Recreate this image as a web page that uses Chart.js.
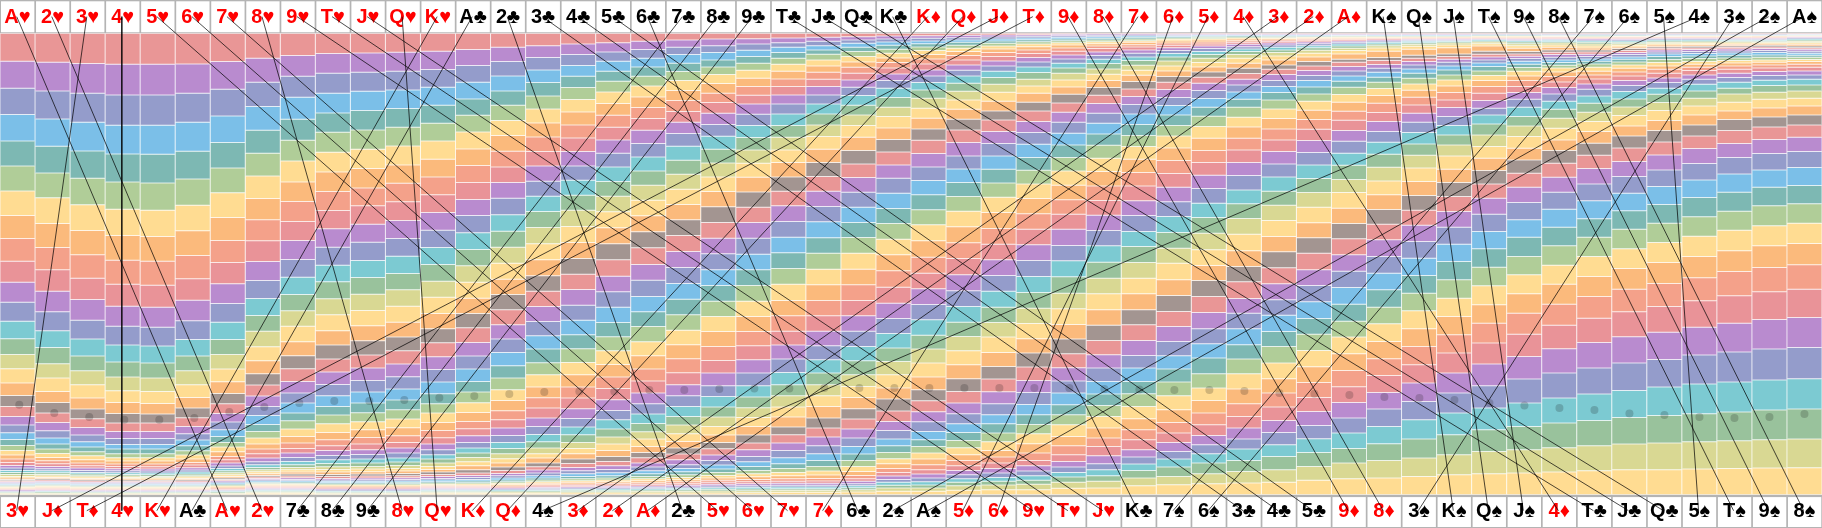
<!DOCTYPE html>
<html><head><meta charset="utf-8">
<style>html,body{margin:0;padding:0;background:#fff;overflow:hidden}canvas{display:block}</style>
<script src="https://cdn.jsdelivr.net/npm/chart.js@4"></script>
</head><body><canvas id="c" width="1822" height="528"></canvas>
<script>
const topCards = ["A♥","2♥","3♥","4♥","5♥","6♥","7♥","8♥","9♥","T♥","J♥","Q♥","K♥","A♣","2♣","3♣","4♣","5♣","6♣","7♣","8♣","9♣","T♣","J♣","Q♣","K♣","K♦","Q♦","J♦","T♦","9♦","8♦","7♦","6♦","5♦","4♦","3♦","2♦","A♦","K♠","Q♠","J♠","T♠","9♠","8♠","7♠","6♠","5♠","4♠","3♠","2♠","A♠"];
const bottomCards = ["3♥","J♦","T♦","4♥","K♥","A♣","A♥","2♥","7♣","8♣","9♣","8♥","Q♥","K♦","Q♦","4♠","3♦","2♦","A♦","2♣","5♥","6♥","7♥","7♦","6♣","2♠","A♠","5♦","6♦","9♥","T♥","J♥","K♣","7♠","6♠","3♣","4♣","5♣","9♦","8♦","3♠","K♠","Q♠","J♠","4♦","T♣","J♣","Q♣","5♠","T♠","9♠","8♠"];
// cumulative share read per column, from the top band down
const col01=[10,94,175,254,333,408,483,557,626,694,757,817,874,927,974,1017,1060,1097,1130,1160,1186,1209,1229,1247,1262,1276,1288,1298,1307,1315,1322,1328,1334,1340,1345,1349,1353,1356,1359,1362,1365,1368,1371,1374,1377,1379,1381,1384,1386,1388,1390,1392,1395];
const col02=[10,97,183,267,349,429,504,581,653,720,784,846,903,953,1002,1045,1085,1118,1150,1178,1203,1225,1243,1258,1271,1283,1293,1302,1310,1317,1323,1329,1334,1339,1343,1347,1351,1355,1358,1361,1364,1367,1370,1373,1376,1378,1380,1383,1385,1387,1390,1392,1395];
const col03=[10,101,190,277,363,445,525,602,675,745,809,871,928,979,1023,1065,1105,1138,1167,1193,1216,1236,1252,1266,1278,1290,1300,1308,1315,1322,1328,1333,1338,1342,1346,1350,1354,1358,1361,1364,1367,1370,1373,1376,1378,1380,1382,1384,1386,1388,1390,1392,1395];
const col04=[10,103,195,286,372,456,538,617,691,763,829,889,946,997,1042,1083,1118,1151,1180,1205,1226,1244,1258,1272,1284,1294,1303,1310,1317,1323,1329,1334,1339,1343,1347,1351,1355,1358,1361,1364,1367,1370,1373,1376,1378,1380,1382,1384,1386,1388,1390,1392,1395];
const col05=[10,103,195,286,373,459,541,620,694,766,832,892,949,1000,1045,1085,1121,1153,1180,1205,1226,1244,1258,1272,1284,1294,1303,1311,1318,1324,1330,1335,1340,1344,1348,1352,1355,1358,1361,1364,1367,1370,1373,1376,1378,1380,1382,1384,1386,1388,1390,1392,1395];
const col06=[10,102,190,277,364,447,526,603,677,747,811,873,929,979,1023,1065,1103,1135,1164,1190,1212,1231,1248,1263,1276,1288,1298,1306,1314,1321,1327,1333,1338,1342,1346,1350,1354,1358,1361,1364,1367,1370,1373,1376,1378,1380,1382,1384,1386,1388,1390,1392,1395];
const col07=[10,95,178,258,338,414,489,563,632,698,762,821,877,929,974,1018,1056,1091,1122,1151,1177,1200,1220,1238,1252,1266,1280,1290,1300,1309,1316,1323,1329,1335,1340,1345,1349,1353,1357,1360,1363,1366,1369,1372,1375,1378,1380,1382,1385,1387,1390,1392,1395];
const col08=[10,85,157,230,301,370,438,506,570,633,695,752,806,857,904,951,993,1032,1066,1099,1130,1157,1184,1205,1225,1243,1258,1272,1285,1296,1305,1313,1320,1326,1332,1337,1342,1346,1350,1354,1358,1361,1364,1367,1370,1373,1376,1379,1382,1385,1388,1391,1395];
const col09=[10,77,139,202,268,331,393,456,515,575,632,689,742,794,843,889,936,978,1017,1055,1090,1120,1150,1173,1198,1220,1240,1256,1270,1283,1295,1305,1313,1320,1327,1333,1339,1344,1349,1353,1357,1361,1364,1367,1370,1373,1376,1379,1382,1385,1388,1391,1395];
const col10=[10,71,130,190,249,307,367,426,485,542,597,652,706,756,807,855,903,946,988,1027,1064,1098,1130,1156,1182,1208,1230,1248,1262,1277,1290,1301,1311,1319,1327,1334,1340,1346,1351,1355,1359,1363,1366,1369,1372,1375,1378,1381,1384,1386,1389,1392,1395];
const col11=[10,69,127,184,242,300,358,416,474,528,583,637,692,743,793,842,888,933,976,1015,1052,1087,1120,1149,1176,1200,1223,1243,1260,1274,1288,1300,1310,1318,1326,1333,1339,1345,1350,1355,1359,1363,1366,1369,1372,1375,1378,1381,1384,1386,1389,1392,1395];
const col12=[10,67,124,180,236,292,348,405,460,516,572,626,679,731,780,829,877,922,963,1003,1041,1078,1111,1140,1168,1194,1218,1238,1255,1270,1285,1297,1307,1316,1324,1331,1338,1344,1349,1354,1358,1362,1366,1369,1372,1375,1378,1381,1384,1386,1389,1392,1395];
const col13=[10,64,119,172,226,280,333,388,441,495,548,601,653,704,754,802,851,897,939,981,1019,1057,1092,1122,1150,1178,1202,1224,1243,1260,1275,1288,1300,1310,1319,1327,1334,1340,1346,1351,1356,1360,1364,1367,1370,1373,1376,1379,1382,1385,1388,1391,1395];
const col14=[10,59,107,157,207,256,306,357,407,458,509,557,609,659,708,757,805,851,894,938,979,1018,1055,1087,1119,1148,1175,1197,1218,1238,1255,1270,1283,1296,1308,1320,1330,1337,1343,1349,1354,1359,1363,1367,1370,1373,1376,1379,1382,1385,1388,1391,1395];
const col15=[10,52,95,138,183,226,272,317,364,411,458,505,555,604,652,700,748,794,840,885,928,968,1008,1045,1080,1112,1143,1170,1195,1217,1238,1256,1272,1287,1300,1312,1322,1331,1338,1345,1351,1356,1361,1365,1369,1372,1375,1378,1381,1384,1387,1391,1395];
const col16=[10,47,83,120,158,198,237,279,321,365,408,454,499,545,593,642,690,738,784,830,875,918,958,999,1035,1072,1104,1135,1165,1190,1214,1236,1255,1272,1285,1300,1311,1321,1330,1338,1345,1351,1356,1361,1365,1369,1373,1376,1380,1383,1387,1391,1395];
const col17=[10,42,74,107,139,173,209,246,285,324,365,408,451,496,541,590,638,686,733,779,826,871,915,957,998,1035,1072,1105,1137,1166,1192,1215,1238,1256,1272,1288,1301,1313,1323,1332,1340,1347,1353,1358,1363,1367,1371,1375,1379,1382,1386,1390,1395];
const col18=[10,38,66,94,124,154,186,221,256,292,330,370,411,455,499,546,594,642,690,739,786,832,878,921,963,1004,1042,1076,1110,1142,1170,1198,1222,1243,1262,1280,1295,1308,1319,1329,1338,1345,1351,1356,1361,1366,1370,1374,1378,1382,1386,1390,1395];
const col19=[10,34,59,85,111,139,168,201,233,266,301,341,381,423,466,511,558,606,654,704,751,800,846,890,936,978,1018,1054,1090,1122,1153,1181,1206,1228,1250,1268,1284,1300,1312,1323,1332,1340,1347,1353,1359,1364,1369,1373,1377,1381,1385,1390,1395];
const col20=[10,30,52,74,100,125,152,182,212,245,277,311,349,391,433,478,524,570,617,665,713,761,808,855,901,945,987,1029,1065,1098,1130,1160,1186,1212,1235,1255,1273,1290,1305,1316,1326,1335,1343,1350,1356,1362,1367,1372,1376,1380,1385,1390,1395];
const col21=[10,27,47,68,90,111,134,161,190,218,250,284,319,358,399,441,485,531,578,625,672,720,767,814,860,905,950,992,1030,1068,1100,1132,1162,1190,1216,1238,1257,1276,1292,1306,1318,1328,1337,1345,1352,1358,1364,1369,1374,1379,1384,1390,1395];
const col22=[10,26,42,61,80,100,121,145,170,196,222,253,287,323,360,400,442,486,532,578,625,673,720,767,814,860,905,948,990,1030,1068,1102,1134,1163,1190,1216,1240,1260,1280,1296,1310,1322,1332,1341,1349,1356,1362,1368,1373,1378,1383,1389,1395];
const col23=[10,24,38,52,68,85,103,124,147,170,195,222,252,287,322,360,398,441,484,528,575,622,669,716,763,812,858,904,946,988,1028,1065,1098,1132,1162,1192,1215,1240,1262,1284,1302,1316,1328,1338,1347,1355,1361,1367,1372,1377,1382,1388,1395];
const col24=[10,22,34,47,60,73,90,108,127,148,170,195,222,252,285,320,358,398,440,484,530,576,624,670,718,765,812,858,904,948,990,1030,1065,1098,1130,1165,1195,1222,1248,1272,1292,1310,1324,1336,1346,1354,1361,1367,1372,1377,1382,1388,1395];
const col25=[10,20,30,40,52,65,80,96,112,130,150,172,197,226,255,287,322,362,402,443,487,532,578,623,670,718,765,812,858,904,950,993,1035,1070,1103,1137,1168,1198,1225,1250,1273,1292,1310,1325,1337,1347,1355,1362,1368,1374,1380,1387,1395];
const col26=[10,18,27,36,46,58,70,84,98,114,132,152,175,203,232,260,294,329,366,405,445,490,536,581,628,675,723,772,820,866,911,955,995,1035,1075,1108,1144,1175,1202,1228,1248,1268,1287,1302,1316,1328,1339,1349,1358,1367,1375,1385,1395];
const col27=[10,17,25,33,41,51,62,74,87,102,120,138,158,180,205,235,265,297,331,371,411,452,495,540,585,633,682,730,777,824,870,916,958,1000,1042,1080,1113,1146,1176,1205,1230,1250,1270,1288,1305,1320,1333,1345,1356,1366,1375,1385,1395];
const col28=[10,16,23,30,37,46,55,65,77,90,105,121,138,160,184,210,238,268,300,338,378,417,458,500,544,591,639,686,735,783,830,877,920,963,1005,1047,1085,1120,1152,1182,1208,1232,1254,1275,1292,1308,1322,1335,1347,1358,1368,1382,1395];
const col29=[10,15,21,27,33,40,48,57,68,80,93,108,124,143,163,187,214,243,270,305,341,378,418,459,502,548,596,643,690,737,784,832,878,922,968,1010,1048,1086,1122,1155,1182,1210,1236,1262,1282,1300,1316,1330,1343,1355,1366,1380,1395];
const col30=[10,14,19,24,29,35,42,50,60,71,83,96,111,128,148,168,190,217,243,275,308,343,383,421,462,506,552,598,645,692,740,788,835,881,927,970,1012,1052,1088,1124,1155,1184,1212,1242,1270,1292,1308,1324,1338,1352,1364,1380,1395];
const col31=[10,13,17,22,27,32,38,45,54,64,75,87,100,114,130,150,171,193,219,247,277,310,345,383,423,466,510,553,598,647,693,741,790,837,884,928,972,1014,1054,1090,1125,1155,1185,1220,1248,1275,1295,1312,1328,1342,1358,1376,1395];
const col32=[10,12,16,20,25,30,35,41,48,56,66,77,88,101,117,133,152,173,196,221,250,280,312,346,385,425,468,512,556,602,648,697,745,792,840,886,932,975,1015,1055,1093,1127,1160,1195,1225,1250,1278,1302,1320,1338,1355,1375,1395];
const col33=[10,12,15,18,22,27,32,37,44,51,60,70,81,92,106,121,136,155,177,200,224,252,284,317,350,388,428,468,513,557,605,650,698,745,792,840,885,932,977,1015,1055,1092,1130,1167,1200,1230,1260,1282,1303,1322,1345,1368,1395];
const col34=[10,12,14,17,20,24,28,33,39,46,53,62,71,81,93,108,123,140,157,179,203,227,255,287,318,354,392,431,472,516,560,608,655,700,750,797,845,890,935,978,1018,1057,1098,1140,1178,1210,1238,1265,1288,1312,1340,1365,1395];
const col35=[10,12,14,16,19,22,26,30,36,42,48,56,65,74,85,98,111,126,142,160,182,206,232,259,290,325,362,398,436,476,520,563,610,660,707,752,800,848,897,942,985,1032,1075,1112,1150,1185,1217,1245,1272,1300,1332,1362,1395];
const col36=[10,12,14,16,18,21,24,27,32,37,43,50,57,65,74,85,100,115,131,148,165,186,208,232,262,291,325,360,398,437,480,522,566,613,663,710,756,806,850,897,945,988,1032,1078,1122,1160,1195,1228,1258,1292,1325,1360,1395];
const col37=[10,12,14,16,18,20,23,26,30,34,39,45,52,60,68,78,90,105,118,134,152,170,188,210,237,266,297,330,365,402,441,484,526,572,620,666,714,762,810,856,905,950,1000,1047,1090,1132,1172,1208,1245,1280,1320,1358,1395];
const col38=[10,12,14,16,18,20,22,25,28,32,36,41,47,53,61,70,81,95,108,122,137,152,171,192,214,241,269,298,332,368,405,446,488,532,579,624,670,720,767,816,866,913,962,1011,1058,1103,1145,1187,1227,1268,1310,1352,1395];
const col39=[10,12,14,16,17,19,21,23,26,29,33,37,42,48,55,62,72,88,97,110,123,138,154,172,194,217,244,271,302,334,370,406,449,488,535,581,627,675,724,773,823,874,922,972,1022,1071,1118,1165,1210,1256,1300,1347,1395];
const col40=[10,12,14,15,17,19,21,23,25,27,30,33,37,42,47,54,64,83,92,104,115,127,142,157,176,197,220,248,275,305,337,373,412,453,495,539,583,630,680,730,780,832,882,935,987,1037,1088,1138,1190,1242,1292,1345,1395];
const col41=[10,12,14,15,17,18,20,22,24,26,28,31,34,38,43,49,58,76,85,95,105,117,130,145,162,181,202,225,250,277,308,342,376,414,455,497,541,586,635,685,737,790,843,897,950,1005,1060,1115,1170,1228,1285,1340,1395];
const col42=[10,12,14,15,17,18,20,21,23,25,27,29,32,35,39,45,53,72,80,88,97,108,120,135,150,168,188,210,233,260,287,315,345,378,418,458,500,545,592,643,695,750,805,860,915,970,1030,1090,1150,1215,1275,1335,1395];
const col43=[10,12,13,15,16,18,19,21,23,24,26,28,30,33,36,41,48,64,73,81,90,99,110,123,137,152,170,190,212,235,255,282,315,350,385,422,462,505,553,605,657,712,768,825,880,940,1003,1068,1135,1200,1265,1332,1395];
const col44=[10,12,13,15,16,18,19,21,23,25,27,29,32,36,41,47,55,65,72,79,86,94,103,113,124,138,152,170,188,208,232,260,288,320,355,390,430,472,518,570,622,680,735,792,850,913,980,1048,1120,1190,1260,1330,1395];
const col45=[10,12,13,15,16,17,19,20,22,24,26,28,31,35,39,45,52,60,67,74,82,90,98,106,114,126,140,156,173,192,214,238,265,295,330,362,400,442,487,538,592,648,706,763,823,886,957,1030,1105,1180,1254,1327,1395];
const col46=[10,12,13,15,16,18,20,21,23,25,27,30,33,37,42,48,54,60,66,73,80,87,94,102,112,124,135,147,162,178,198,220,247,275,305,340,376,416,462,513,567,622,680,740,800,865,938,1015,1093,1172,1248,1323,1395];
const col47=[10,12,13,15,16,18,19,20,22,24,26,29,33,37,41,46,51,56,62,68,74,81,88,96,105,115,126,138,152,167,185,207,231,257,288,318,354,395,440,490,543,598,657,716,778,846,921,1000,1082,1163,1243,1320,1395];
const col48=[10,12,13,15,16,17,19,20,21,23,25,27,30,33,37,41,45,50,55,60,66,72,80,89,98,108,118,130,144,158,175,193,218,242,272,302,336,375,420,470,524,580,638,698,761,830,907,989,1072,1157,1240,1320,1395];
const col49=[10,12,13,15,16,17,18,20,21,23,25,27,30,33,36,40,44,49,54,59,65,71,78,86,95,103,112,122,135,148,163,183,205,228,255,285,318,356,401,450,503,561,619,680,744,813,892,976,1063,1152,1236,1318,1395];
const col50=[10,12,13,15,16,17,18,20,21,23,25,27,29,32,35,39,43,47,52,57,63,69,76,84,92,99,108,118,130,143,157,175,192,217,243,269,302,341,383,432,487,544,601,663,725,798,880,967,1057,1147,1233,1316,1395];
const col51=[10,12,13,15,16,17,18,19,21,23,25,27,29,32,35,38,42,46,51,56,62,68,75,82,90,97,105,114,125,137,151,167,187,208,234,261,291,329,371,420,472,528,588,648,713,786,869,958,1051,1141,1230,1315,1395];
const col52=[10,12,13,14,15,16,17,18,19,20,22,24,27,30,34,38,43,48,53,58,64,70,76,82,89,95,103,112,123,135,148,165,183,205,228,255,285,322,365,413,467,522,580,641,705,778,863,953,1047,1138,1228,1314,1395];
const dotValues=[1115,1140,1152,1160,1160,1155,1137,1122,1110,1104,1104,1101,1094,1089,1083,1077,1075,1075,1071,1071,1068,1066,1066,1065,1065,1065,1065,1065,1065,1065,1065,1068,1069,1071,1071,1074,1080,1082,1086,1092,1095,1101,1110,1117,1125,1131,1141,1146,1152,1155,1152,1143];
const bandColors=["#E99696","#B98BCF","#949CCB","#7BBFE8","#7DB8B3","#B0CD98","#FFDC92","#FBBA7C","#F4A18A","#E99398","#B98BCF","#949CCB","#7CCAD2","#99C29C","#D9D893","#FFDC92","#FBBA7C","#A39591"];
const bandEdges=["#F4CBCB","#DCC5E7","#CACEE5","#BDDFF4","#BEDCD9","#D8E6CC","#FFEEC9","#FDDDBE","#FAD0C5","#F4C9CC","#DCC5E7","#CACEE5","#BEE5E9","#CCE1CE","#ECECC9","#FFEEC9","#FDDDBE","#D1CAC8"];
const columns=[col01,col02,col03,col04,col05,col06,col07,col08,col09,col10,col11,col12,col13,col14,col15,col16,col17,col18,col19,col20,col21,col22,col23,col24,col25,col26,col27,col28,col29,col30,col31,col32,col33,col34,col35,col36,col37,col38,col39,col40,col41,col42,col43,col44,col45,col46,col47,col48,col49,col50,col51,col52];
const TOTAL=1385, LINE_TOP=-50, LINE_BOTTOM=1433;

const datasets=[];
for(let b=0;b<52;b++){
  datasets.push({type:'bar',stack:'s',order:3,yAxisID:'y',
    data:columns.map((c,i)=>({x:i,y:c[b+1]-c[b]})),
    backgroundColor:bandColors[b%18],borderColor:bandEdges[b%18],borderWidth:0.5,
    borderSkipped:false,inflateAmount:0,barPercentage:1,categoryPercentage:1});
}
datasets.push({type:'line',order:2,yAxisID:'yOver',showLine:false,
  data:dotValues.map((v,i)=>({x:i+0.05-i*0.001,y:v})),pointRadius:4,pointBorderWidth:0,
  pointBackgroundColor:'rgba(20,20,20,0.2)',clip:false});
topCards.forEach((card,i)=>{
  const j=bottomCards.indexOf(card);
  datasets.push({type:'line',order:1,yAxisID:'yOver',clip:false,
    data:[{x:i-0.023,y:LINE_TOP},{x:j-0.023,y:LINE_BOTTOM}],borderColor:'rgba(0,0,0,0.7)',borderWidth:1,pointRadius:0,tension:0});
});
const cardTicks=(padding)=>({autoSkip:false,maxRotation:0,minRotation:0,padding,
  font:{family:'"Liberation Sans","DejaVu Sans",sans-serif',weight:'bold',size:20},
  color:c=>/[♥♦]/.test(c.tick.label)?'#ff0000':'#000000'});
const hide={display:false,grid:{display:false}};
const fitBand=s=>{s.height=33.3;s.paddingLeft=0;s.paddingRight=0;};
const frames={id:'frames',beforeDraw(chart){
  const g=chart.ctx,w=chart.width,top=chart.chartArea.top,bot=chart.chartArea.bottom;
  const xa=chart.scales.xBottom,step=xa.getPixelForTick(1)-xa.getPixelForTick(0);
  g.save();
  g.fillStyle='#B4B4B4';g.fillRect(0,0,w,top);g.fillRect(0,bot,w,chart.height-bot);
  g.fillStyle='#fff';
  for(let i=0;i<52;i++){
    const left=xa.getPixelForTick(i)-step/2+1;
    g.fillRect(left,1.3,step-1.7,top-2.3);
    g.fillRect(left,bot+2.4,step-1.7,chart.height-bot-3.4);
  }
  g.restore();
}};
new Chart(document.getElementById('c'),{
  type:'bar',
  data:{datasets},
  plugins:[frames],
  options:{responsive:false,animation:false,devicePixelRatio:1,
    layout:{padding:0,autoPadding:false},
    plugins:{legend:{display:false},tooltip:{enabled:false}},
    events:[],
    scales:{
      x:{type:'linear',stacked:true,offset:false,min:-0.5,max:51.5,...hide},
      xBottom:{type:'category',position:'bottom',labels:bottomCards,offset:true,grid:{display:false,drawTicks:false},border:{display:false},
        ticks:cardTicks(5),afterFit:fitBand},
      xTop:{type:'category',position:'top',labels:topCards,offset:true,grid:{display:false,drawTicks:false},border:{display:false},
        ticks:cardTicks(4),afterFit:fitBand},
      y:{type:'linear',stacked:true,reverse:true,min:0,max:TOTAL,...hide},
      yOver:{type:'linear',reverse:true,min:0,max:TOTAL,...hide}
    }
  }
});
</script></body></html>
